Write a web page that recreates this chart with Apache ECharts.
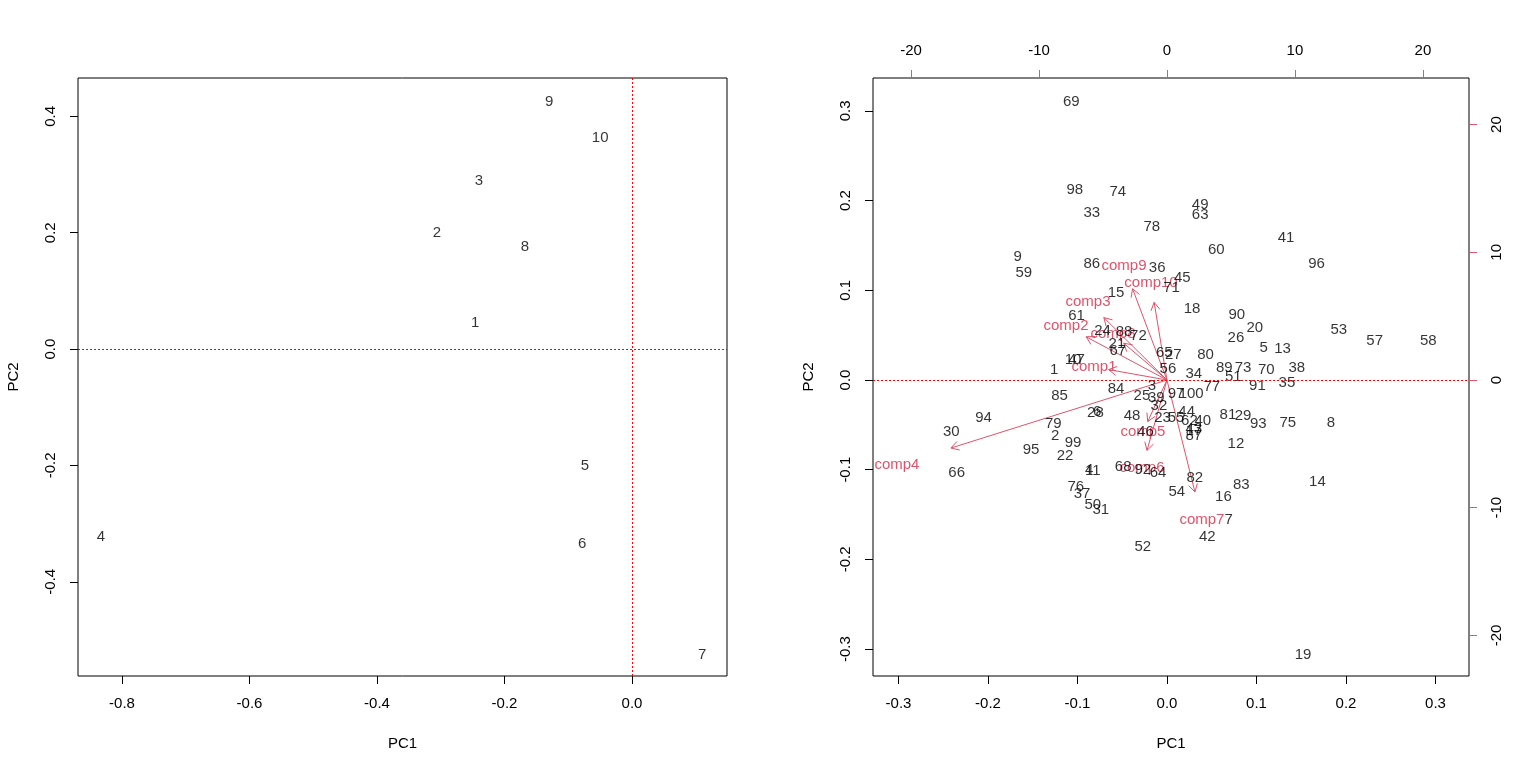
<!DOCTYPE html>
<html>
<head>
<meta charset="utf-8">
<script src="https://cdn.jsdelivr.net/npm/echarts@6/dist/echarts.min.js"></script>
<style>
  html, body { margin: 0; padding: 0; background: #fff; }
  #ch { width: 1536px; height: 773px; }
</style>
</head>
<body>
<div id="ch"></div>
<script>
// left panel: 10 points
var leftNames = ['1', '2', '3', '4', '5', '6', '7', '8', '9', '10'];
var leftPC1 = [-0.246, -0.306, -0.240, -0.833, -0.074, -0.078, 0.110, -0.168, -0.130, -0.050];
var leftPC2 = [0.045, 0.200, 0.289, -0.323, -0.200, -0.334, -0.525, 0.175, 0.425, 0.363];

// right panel: 100 points
var rightNames = ['69','98','74','33','49','63','78','41','60','9',
  '59','86','96','36','45','71','15','18','90','61',
  '53','20','26','57','58','5','13','24','88','72',
  '21','67','65','27','56','80','34','89','73','51',
  '70','38','91','35','77','97','100','3','25','39',
  '32','84','85','1','10','47','44','48','23','55',
  '62','40','43','17','87','81','29','93','75','8',
  '12','28','6','79','2','99','95','22','94','30',
  '66','46','4','11','68','92','64','82','83','54',
  '16','14','76','37','50','31','7','42','52','19'];
var rightPC1 = [-0.107,-0.103,-0.055,-0.084,0.037,0.037,-0.017,0.133,0.055,-0.167,
  -0.160,-0.084,0.167,-0.011,0.017,0.005,-0.057,0.028,0.078,-0.101,
  0.192,0.098,0.077,0.232,0.292,0.108,0.129,-0.072,-0.048,-0.032,
  -0.056,-0.055,-0.003,0.007,0.001,0.043,0.030,0.064,0.085,0.074,
  0.111,0.145,0.101,0.134,0.050,0.010,0.027,-0.017,-0.028,-0.012,
  -0.009,-0.057,-0.120,-0.126,-0.105,-0.101,0.022,-0.039,-0.005,0.010,
  0.025,0.040,0.030,0.030,0.030,0.068,0.085,0.102,0.135,0.183,
  0.077,-0.080,-0.078,-0.127,-0.125,-0.105,-0.152,-0.114,-0.205,-0.241,
  -0.235,-0.024,-0.087,-0.083,-0.049,-0.027,-0.010,0.031,0.083,0.011,
  0.063,0.168,-0.102,-0.095,-0.083,-0.074,0.069,0.045,-0.027,0.152];
var rightPC2 = [0.310,0.212,0.210,0.186,0.195,0.184,0.171,0.158,0.145,0.137,
  0.120,0.130,0.130,0.125,0.114,0.103,0.097,0.079,0.073,0.071,
  0.056,0.058,0.047,0.044,0.044,0.036,0.035,0.055,0.054,0.049,
  0.040,0.033,0.030,0.028,0.012,0.028,0.007,0.013,0.013,0.003,
  0.011,0.013,-0.006,-0.003,-0.008,-0.015,-0.015,-0.006,-0.018,-0.020,
  -0.029,-0.010,-0.018,0.011,0.022,0.022,-0.035,-0.040,-0.042,-0.042,
  -0.045,-0.046,-0.054,-0.057,-0.062,-0.039,-0.040,-0.049,-0.048,-0.048,
  -0.071,-0.037,-0.036,-0.049,-0.062,-0.070,-0.078,-0.085,-0.042,-0.058,
  -0.104,-0.058,-0.100,-0.101,-0.097,-0.100,-0.104,-0.109,-0.117,-0.125,
  -0.130,-0.113,-0.119,-0.127,-0.139,-0.145,-0.156,-0.175,-0.186,-0.306];

// loadings (label positions on the top/right scale), arrows go to 0.8 of these
var compNames = ['comp1','comp2','comp3','comp4','comp5','comp6','comp7','comp8','comp9','comp10'];
var compX = [-5.70, -7.89, -6.17, -21.1, -1.88, -1.95, 2.73, -4.22, -3.36, -1.25];
var compY = [1.02, 4.23, 6.11, -6.66, -4.07, -6.89, -10.96, 3.60, 8.93, 7.60];

// tick labels
var leftXTicks = [-0.8, -0.6, -0.4, -0.2, 0.0];
var leftYTicks = [-0.4, -0.2, 0.0, 0.2, 0.4];
var rightXTicks = [-0.3, -0.2, -0.1, 0.0, 0.1, 0.2, 0.3];
var rightYTicks = [-0.3, -0.2, -0.1, 0.0, 0.1, 0.2, 0.3];
var loadTicks = [-20, -10, 0, 10, 20];

var FONT = '"Liberation Sans", Arial, sans-serif';
var RED = '#DF536B';

function pts(names, xs, ys) {
    var res = [];
    for (var i = 0; i < names.length; i++) {
        res.push({name: names[i], value: [xs[i], ys[i]]});
    }
    return res;
}

function fmt1(v) {
    var s = (Math.round(v * 10) / 10).toFixed(1);
    return s === '-0.0' ? '0.0' : s;
}

function numAxis(o) {
    var ax = {
        type: 'value',
        gridIndex: o.grid,
        position: o.position,
        min: o.min,
        max: o.max,
        name: o.name || '',
        nameLocation: 'middle',
        nameGap: o.nameGap || 0,
        nameTextStyle: {fontFamily: FONT, fontSize: 15, color: '#000'},
        axisLine: {show: false, onZero: false},
        splitLine: {show: false},
        axisTick: {
            show: true, inside: false, length: 8,
            customValues: o.ticks,
            lineStyle: {color: o.tickColor || '#000', width: 1}
        },
        axisLabel: {
            show: true,
            customValues: o.ticks,
            margin: 20,
            rotate: o.rotate || 0,
            fontFamily: FONT, fontSize: 15, color: '#000',
            formatter: o.fmt
        }
    };
    return ax;
}

var labelStyle = {
    show: true, position: 'inside', formatter: '{b}',
    fontFamily: FONT, fontSize: 15, color: '#000'
};

var Chart = echarts.init(document.getElementById('ch'));
var option = {
    animation: false,
    backgroundColor: '#fff',
    grid: [
        {left: 78, top: 78, width: 649, height: 598, show: true, borderColor: '#000', borderWidth: 1, backgroundColor: 'transparent'},
        {left: 873, top: 78, width: 596, height: 598, show: true, borderColor: '#000', borderWidth: 1, backgroundColor: 'transparent'}
    ],
    xAxis: [
        numAxis({grid: 0, position: 'bottom', min: -0.869, max: 0.149, ticks: leftXTicks, fmt: fmt1, name: 'PC1', nameGap: 60}),
        numAxis({grid: 1, position: 'bottom', min: -0.3285, max: 0.3374, ticks: rightXTicks, fmt: fmt1, name: 'PC1', nameGap: 60}),
        numAxis({grid: 1, position: 'top', min: -22.97, max: 23.6, ticks: loadTicks, tickColor: RED, fmt: function (v) { return String(Math.round(v)); }})
    ],
    yAxis: [
        numAxis({grid: 0, position: 'left', min: -0.562, max: 0.466, ticks: leftYTicks, fmt: fmt1, rotate: 90, name: 'PC2', nameGap: 57}),
        numAxis({grid: 1, position: 'left', min: -0.330, max: 0.3367, ticks: rightYTicks, fmt: fmt1, rotate: 90, name: 'PC2', nameGap: 57}),
        numAxis({grid: 1, position: 'right', min: -23.18, max: 23.65, ticks: loadTicks, tickColor: RED, rotate: 90, fmt: function (v) { return String(Math.round(v)); }})
    ],
    series: [
        {
            type: 'scatter',
            xAxisIndex: 0, yAxisIndex: 0,
            symbol: 'circle', symbolSize: 1,
            itemStyle: {color: 'rgba(0,0,0,0)'},
            label: labelStyle,
            data: pts(leftNames, leftPC1, leftPC2),
            markLine: {
                silent: true, symbol: 'none',
                label: {show: false},
                lineStyle: {color: '#FF0000', type: [2, 2], width: 1},
                data: [{xAxis: 0}, {yAxis: 0}]
            }
        },
        {
            type: 'scatter',
            xAxisIndex: 1, yAxisIndex: 1,
            symbol: 'circle', symbolSize: 1,
            itemStyle: {color: 'rgba(0,0,0,0)'},
            label: labelStyle,
            data: pts(rightNames, rightPC1, rightPC2),
            markLine: {
                silent: true, symbol: 'none',
                label: {show: false},
                lineStyle: {color: '#FF0000', type: [2, 2], width: 1},
                data: [{yAxis: 0}]
            }
        },
        {
            // loading arrows: open V heads like R's arrows()
            type: 'custom',
            xAxisIndex: 2, yAxisIndex: 2,
            data: compX.map(function (x, i) { return [x, compY[i]]; }),
            encode: {x: 0, y: 1},
            renderItem: function (params, api) {
                var lx = api.value(0), ly = api.value(1);
                var o = api.coord([0, 0]);
                var t = api.coord([lx * 0.8, ly * 0.8]);
                var p = api.coord([lx, ly]);
                var a = Math.atan2(t[1] - o[1], t[0] - o[0]);
                var h = 9, s = Math.PI / 6;
                return {
                    type: 'group',
                    children: [
                        {type: 'line', shape: {x1: o[0], y1: o[1], x2: t[0], y2: t[1]},
                         style: {stroke: RED, lineWidth: 1}},
                        {type: 'polyline', shape: {points: [
                            [t[0] - h * Math.cos(a - s), t[1] - h * Math.sin(a - s)],
                            [t[0], t[1]],
                            [t[0] - h * Math.cos(a + s), t[1] - h * Math.sin(a + s)]
                        ]}, style: {stroke: RED, lineWidth: 1, fill: null}},
                        {type: 'text', x: p[0], y: p[1], style: {
                            text: compNames[params.dataIndex], fill: RED,
                            font: '15px ' + FONT, align: 'center', verticalAlign: 'middle'
                        }}
                    ]
                };
            }
        }
    ]
};
Chart.setOption(option);
</script>
</body>
</html>
